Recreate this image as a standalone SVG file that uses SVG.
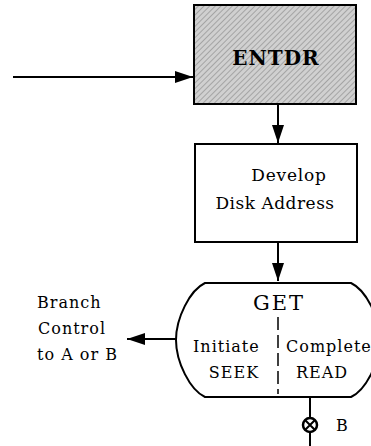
<svg xmlns="http://www.w3.org/2000/svg" width="371" height="446" viewBox="0 0 371 446">
<style>
.box{fill:#fff;stroke:#000;stroke-width:2}
.ln{stroke:#000;stroke-width:2;fill:none}
.t{font-family:"DejaVu Serif","Liberation Serif",serif;fill:#000}
.s{font-size:16px;letter-spacing:1px}
</style>
<defs>
<pattern id="hatch" width="4" height="4" patternUnits="userSpaceOnUse" patternTransform="rotate(45)">
<rect width="4" height="4" fill="#d0d0d0"/>
<rect width="1" height="4" fill="#a4a4a4"/>
</pattern>
<marker id="ah" markerWidth="18" markerHeight="12" refX="18" refY="6" orient="auto" markerUnits="userSpaceOnUse">
<path d="M0,0 L18,6 L0,12 Z" fill="#000"/>
</marker>
</defs>
<g id="connectors">
<line class="ln" x1="13" y1="77" x2="193" y2="77" marker-end="url(#ah)"/>
<line class="ln" x1="278" y1="104" x2="278" y2="143" marker-end="url(#ah)"/>
<line class="ln" x1="278" y1="242" x2="278" y2="281" marker-end="url(#ah)"/>
<line class="ln" x1="176" y1="339" x2="127" y2="339" marker-end="url(#ah)"/>
<line class="ln" x1="310" y1="397" x2="310" y2="446"/>
</g>
<g id="entdr">
<rect x="194" y="5" width="162" height="99" fill="url(#hatch)" stroke="#000" stroke-width="2"/>
<text class="t" x="276" y="65" font-size="20" text-anchor="middle" letter-spacing="1" font-weight="bold">ENTDR</text>
</g>
<g id="develop">
<rect class="box" x="195" y="144" width="162" height="98"/>
<text class="t" x="289" y="181" font-size="17" text-anchor="middle" letter-spacing="0.8">Develop</text>
<text class="t" x="275" y="209" font-size="17" text-anchor="middle" letter-spacing="0.5">Disk Address</text>
</g>
<g id="get">
<path class="ln" d="M205,283 L351,283 C366,290 380,318 380,340 C380,362 366,390 351,397 L205,397 C190,390 176,362 176,340 C176,318 190,290 205,283 Z" fill="#fff"/>
<text class="t" x="279" y="310" font-size="21" text-anchor="middle" letter-spacing="2">GET</text>
<line x1="278" y1="317" x2="278" y2="394" stroke="#000" stroke-width="1.5" stroke-dasharray="13,5"/>
<text class="t s" x="193" y="352">Initiate</text>
<text class="t s" x="234" y="378" text-anchor="middle" letter-spacing="0.5">SEEK</text>
<text class="t s" x="286" y="352">Complete</text>
<text class="t s" x="322" y="378" text-anchor="middle" letter-spacing="0.5">READ</text>
</g>
<g id="branch-label">
<text class="t s" x="37" y="308" letter-spacing="0.5">Branch</text>
<text class="t s" x="38" y="334">Control</text>
<text class="t s" x="37" y="360" letter-spacing="1.3">to A or B</text>
</g>
<g id="connector-b">
<circle cx="310" cy="425" r="7" fill="#fff" stroke="#000" stroke-width="2.5"/>
<path class="ln" d="M305,420 L315,430 M315,420 L305,430" stroke-width="2"/>
<text class="t" x="336" y="431" font-size="16">B</text>
</g>
</svg>
